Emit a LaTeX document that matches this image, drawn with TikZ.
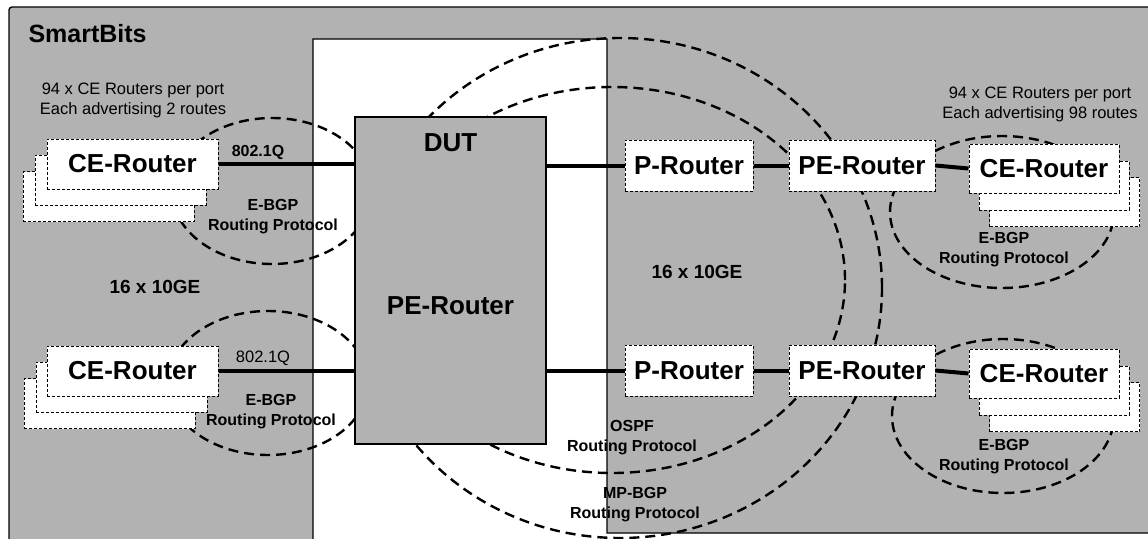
\documentclass[tikz,border=0pt]{standalone}
\usepackage{fontspec}
\setmainfont{Liberation Sans}
\definecolor{boxgray}{gray}{0.7}
\newcommand{\routerfont}{\fontsize{26}{28}\selectfont\bfseries}
\newcommand{\midfont}{\fontsize{19}{22}\selectfont\bfseries}
\newcommand{\protofont}{\fontsize{16}{20}\selectfont\bfseries}
\newcommand{\notefont}{\fontsize{16.5}{20}\selectfont}
\tikzset{
  router/.style={draw, fill=white, dash pattern=on 3pt off 2pt, line width=1pt,
    inner sep=0pt, font=\routerfont},
  celarge/.style={router, minimum width=171pt, minimum height=50pt},
  cesmall/.style={router, minimum width=150pt, minimum height=49pt},
  session/.style={line width=2.4pt, dash pattern=on 10pt off 6pt},
  link/.style={line width=4pt},
  proto/.style={align=center, font=\protofont, inner sep=0pt}
}
\begin{document}
\begin{tikzpicture}[x=1pt,y=-1pt]
		\useasboundingbox (0,0) rectangle (1148,538);
		\clip (0,0) rectangle (1148,538);
		% tester frame with the white notch for the DUT
		\draw[fill=boxgray, line width=1.4pt] (9,545) [rounded corners=3pt] -- (9,7) [sharp corners] -- (1155,7) -- (1155,533) -- (607,533) -- (607,39) -- (313,39) -- (313,545);
		% routing sessions
		\draw[session] (272,191) ellipse [x radius=100pt, y radius=73pt];
		\draw[session] (268,383) ellipse [x radius=100pt, y radius=72pt];
		\draw[session] (1002,212) ellipse [x radius=112pt, y radius=76pt];
		\draw[session] (1003,416) ellipse [x radius=111pt, y radius=77pt];
		\draw[session] (612,280) ellipse [x radius=233pt, y radius=193pt];
		\draw[session] (620,288) ellipse [x radius=262pt, y radius=250pt];
		% DUT
		\node[draw, fill=boxgray, line width=1.2pt, minimum width=191pt, minimum height=327pt] (dut) at (450.5,280.5) {};
		\node[font=\routerfont, anchor=north] (dutname) at ([yshift=-14pt]dut.north) {DUT};
		\node[font=\routerfont] (dutpe) at (450.5,306) {PE-Router};
		% left CE stacks
		\node[celarge] (ceA3) at (108.5,196.5) {};
		\node[celarge] (ceA2) at (120.5,180) {};
		\node[celarge] (ceA) at (132.5,164) {CE-Router};
		\node[celarge] (ceB3) at (109.5,403.5) {};
		\node[celarge] (ceB2) at (121.5,387) {};
		\node[celarge] (ceB) at (132.5,371) {CE-Router};
		% provider side
		\node[router, minimum width=128pt, minimum height=51pt] (pA) at (689,165.5) {P-Router};
		\node[router, minimum width=128pt, minimum height=51pt] (pB) at (689,370.5) {P-Router};
		\node[router, minimum width=146pt, minimum height=51pt] (peA) at (862,165.5) {PE-Router};
		\node[router, minimum width=146pt, minimum height=51pt] (peB) at (862,370.5) {PE-Router};
		% right CE stacks
		\node[cesmall] (ceC3) at (1064.5,202) {};
		\node[cesmall] (ceC2) at (1054,185.5) {};
		\node[cesmall] (ceC) at (1044,168.5) {CE-Router};
		\node[cesmall] (ceD3) at (1064.5,407) {};
		\node[cesmall] (ceD2) at (1054,390.5) {};
		\node[cesmall] (ceD) at (1044,373.5) {CE-Router};
		% links
		\draw[link] (ceA.east) -- (ceA.east -| dut.west);
		\draw[link] (ceB.east) -- (ceB.east -| dut.west);
		\draw[link] (pA.west -| dut.east) -- (pA.west);
		\draw[link] (pB.west -| dut.east) -- (pB.west);
		\draw[link] (pA.east) -- (peA.west);
		\draw[link] (pB.east) -- (peB.west);
		\draw[link] (peA.east) -- (ceC.west);
		\draw[link] (peB.east) -- (ceD.west);
		% labels
		\node[font=\fontsize{25}{28}\selectfont\bfseries, anchor=west] (title) at (25,34) {SmartBits};
		\node[font=\notefont, align=center] (noteL) at (133,100) {94 x CE Routers per port\\Each advertising 2 routes};
		\node[font=\notefont, align=center] (noteR) at (1040,104) {94 x CE Routers per port\\Each advertising 98 routes};
		\node[font=\protofont, anchor=south] (vlanA) at ([yshift=3pt]258,166) {802.1Q};
		\node[font=\notefont, anchor=south] (vlanB) at ([yshift=3pt]263,372) {802.1Q};
		\node[proto] (ebgpA) at (273,217) {E-BGP\\Routing Protocol};
		\node[proto] (ebgpB) at (271,412) {E-BGP\\Routing Protocol};
		\node[proto] (ebgpC) at (1004,250) {E-BGP\\Routing Protocol};
		\node[proto] (ebgpD) at (1004,457) {E-BGP\\Routing Protocol};
		\node[proto] (ospf) at (632,438) {OSPF\\Routing Protocol};
		\node[proto] (mpbgp) at (635,505) {MP-BGP\\Routing Protocol};
		\node[font=\midfont] (portsL) at (155,287) {16 x 10GE};
		\node[font=\midfont] (portsR) at (697,272) {16 x 10GE};
	\end{tikzpicture}
\end{document}
